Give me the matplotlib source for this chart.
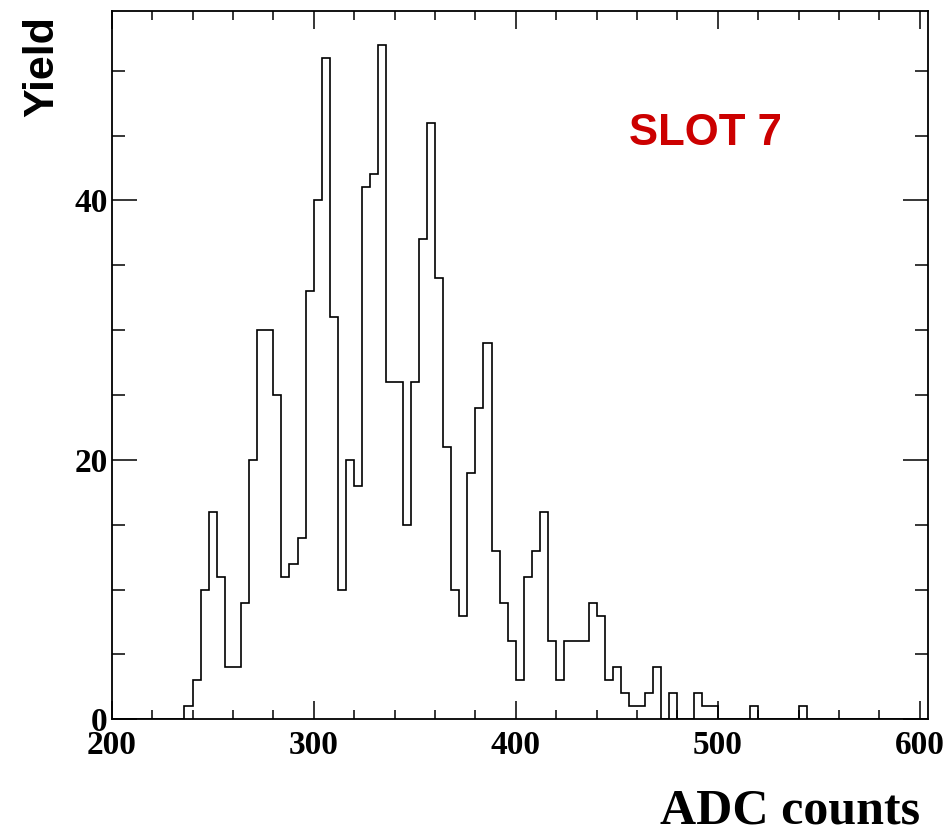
import numpy as np
import matplotlib
matplotlib.use('Agg')
import matplotlib.pyplot as plt
from matplotlib.ticker import MultipleLocator

# ADC spectrum, 4-count bins from 200 to 604
bin_lo = 200
bin_hi = 604
bin_width = 4
counts = [
    0, 0, 0, 0, 0, 0, 0, 0, 0,            # 200 - 232
    1, 3, 10, 16, 11, 4, 4, 9, 20, 30,    # 236 - 272
    30, 25, 11, 12, 14, 33, 40, 51, 31,   # 276 - 308
    10, 20, 18, 41, 42, 52, 26, 26, 15,   # 312 - 344
    26, 37, 46, 34, 21, 10, 8, 19, 24,    # 348 - 380
    29, 13, 9, 6, 3, 11, 13, 16, 6,       # 384 - 416
    3, 6, 6, 6, 9, 8, 3, 4, 2,            # 420 - 452
    1, 1, 2, 4, 0, 2, 0, 0, 2, 1, 1,      # 456 - 496
    0, 0, 0, 0, 1,                        # 500 - 516
    0, 0, 0, 0, 0, 1,                     # 520 - 540
    0, 0, 0, 0, 0, 0, 0, 0, 0, 0, 0, 0, 0, 0, 0,  # 544 - 600
]
x_label = 'ADC counts'
y_label = 'Yield'
tag = 'SLOT 7'

edges = np.arange(bin_lo, bin_hi + bin_width, bin_width)

fig = plt.figure(figsize=(9.49, 8.30), dpi=100)
ax = fig.add_axes([0.1177, 0.1334, 0.9778 - 0.1177, 0.9867 - 0.1334])

ax.stairs(counts, edges, color='black', lw=1.2)

ax.set_xlim(bin_lo, bin_hi)
ax.set_ylim(0, max(counts) * 1.05)

ax.xaxis.set_major_locator(MultipleLocator(100))
ax.xaxis.set_minor_locator(MultipleLocator(20))
ax.yaxis.set_major_locator(MultipleLocator(20))
ax.yaxis.set_minor_locator(MultipleLocator(5))

ax.tick_params(axis='both', which='both', direction='in',
               top=True, right=True, width=1.1, color='black')
ax.tick_params(axis='x', which='major', length=13, pad=8)
ax.tick_params(axis='x', which='minor', length=6.5)
ax.tick_params(axis='y', which='major', length=18, pad=3)
ax.tick_params(axis='y', which='minor', length=9.5)

for lab in ax.get_xticklabels() + ax.get_yticklabels():
    lab.set_fontfamily('Liberation Serif')
    lab.set_fontweight('bold')
    lab.set_fontsize(24)

for sp in ax.spines.values():
    sp.set_linewidth(1.3)

fig.text(920 / 949, 7 / 830, x_label, ha='right', va='baseline',
         family='Liberation Serif', weight='bold', fontsize=36)
fig.text(42 / 949, 1 - 16 / 830, y_label, rotation=90, ha='center', va='top',
         family='Liberation Sans', weight='bold', fontsize=31)
ax.text(0.634, 0.811, tag, transform=ax.transAxes, ha='left', va='baseline',
        family='Liberation Sans', weight='bold', fontsize=31.5, color='#cc0000')

fig.savefig('out.png', dpi=100)
